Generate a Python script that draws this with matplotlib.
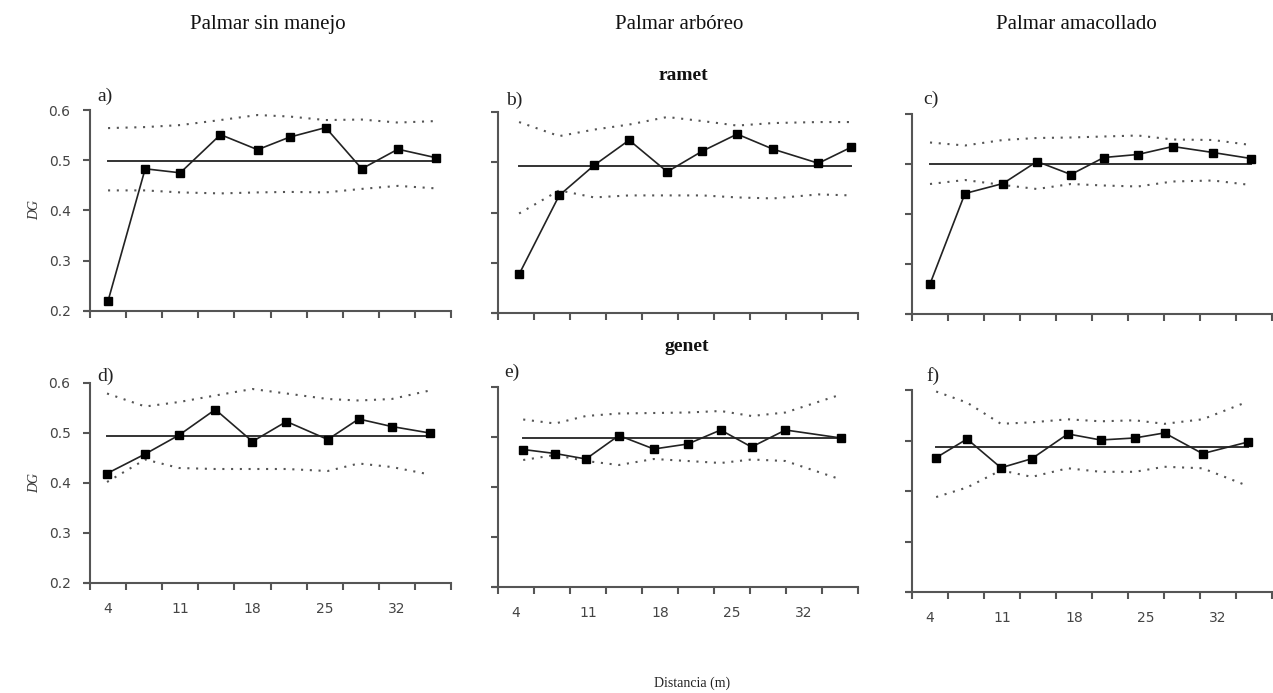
import matplotlib
matplotlib.use("Agg")
import matplotlib.pyplot as plt

# ---------------- data ----------------
columns = ["Palmar sin manejo", "Palmar arbóreo", "Palmar amacollado"]
rows = ["ramet", "genet"]
panel_labels = ["a)", "b)", "c)", "d)", "e)", "f)"]
xtick_labels = [4, 11, 18, 25, 32]
class_step = 3.5
n_classes = 10

# distances (m) of the plotted points
dist_a = [4.0, 7.6, 11.0, 14.9, 18.5, 21.6, 25.1, 28.6, 32.1, 35.8]
dist_b = [4.3, 8.2, 11.6, 15.0, 18.7, 22.1, 25.5, 29.0, 33.4, 36.6]
dist_c = [4.0, 7.4, 11.1, 14.4, 17.7, 20.9, 24.2, 27.6, 31.5, 35.2]
dist_d = [3.9, 7.6, 10.9, 14.4, 18.0, 21.3, 25.3, 28.3, 31.5, 35.2]
dist_e = [4.7, 7.8, 10.8, 14.0, 17.4, 20.7, 23.9, 26.9, 30.2, 35.6]
dist_f = [4.6, 7.6, 10.9, 13.9, 17.4, 20.6, 23.9, 26.8, 30.5, 34.9]

# observed Dg
dg_a = [0.220, 0.483, 0.475, 0.551, 0.521, 0.546, 0.565, 0.483, 0.522, 0.505]
dg_b = [0.277, 0.434, 0.494, 0.544, 0.481, 0.522, 0.556, 0.526, 0.498, 0.530]
dg_c = [0.260, 0.441, 0.461, 0.505, 0.479, 0.513, 0.519, 0.535, 0.523, 0.511]
dg_d = [0.419, 0.458, 0.496, 0.547, 0.483, 0.523, 0.487, 0.528, 0.513, 0.500]
dg_e = [0.475, 0.467, 0.456, 0.503, 0.476, 0.486, 0.514, 0.480, 0.514, 0.498]
dg_f = [0.466, 0.503, 0.446, 0.464, 0.513, 0.501, 0.505, 0.515, 0.474, 0.497]

# expected value (solid line)
expected = [0.498, 0.492, 0.500, 0.495, 0.498, 0.488]

# confidence envelopes (dotted)
upper_a = [0.564, 0.566, 0.570, 0.580, 0.590, 0.587, 0.580, 0.581, 0.575, 0.578]
lower_a = [0.440, 0.440, 0.436, 0.434, 0.436, 0.437, 0.436, 0.443, 0.449, 0.444]
upper_b = [0.580, 0.552, 0.565, 0.575, 0.590, 0.582, 0.573, 0.578, 0.580, 0.580]
lower_b = [0.398, 0.444, 0.430, 0.434, 0.434, 0.434, 0.430, 0.428, 0.436, 0.434]
upper_c = [0.543, 0.537, 0.548, 0.552, 0.553, 0.555, 0.557, 0.549, 0.548, 0.538]
lower_c = [0.460, 0.468, 0.458, 0.450, 0.460, 0.457, 0.455, 0.465, 0.467, 0.458]
upper_d = [0.579, 0.553, 0.562, 0.575, 0.588, 0.579, 0.568, 0.565, 0.568, 0.585]
lower_d = [0.402, 0.447, 0.430, 0.428, 0.428, 0.428, 0.424, 0.439, 0.432, 0.417]
upper_e = [0.535, 0.527, 0.542, 0.547, 0.548, 0.549, 0.552, 0.542, 0.549, 0.585]
lower_e = [0.454, 0.464, 0.452, 0.444, 0.456, 0.452, 0.448, 0.455, 0.452, 0.415]
upper_f = [0.597, 0.575, 0.533, 0.536, 0.542, 0.538, 0.540, 0.533, 0.542, 0.577]
lower_f = [0.388, 0.407, 0.441, 0.428, 0.445, 0.438, 0.438, 0.448, 0.445, 0.410]

yticks = [0.2, 0.3, 0.4, 0.5, 0.6]

dists = [dist_a, dist_b, dist_c, dist_d, dist_e, dist_f]
dgs = [dg_a, dg_b, dg_c, dg_d, dg_e, dg_f]
uppers = [upper_a, upper_b, upper_c, upper_d, upper_e, upper_f]
lowers = [lower_a, lower_b, lower_c, lower_d, lower_e, lower_f]

# ---------------- layout ----------------
W, H = 1273, 693
fig = plt.figure(figsize=(W / 100, H / 100), dpi=100)

# pixel boxes: left, right, top, bottom
boxes = [
    (90, 451, 110, 311),
    (498, 858, 112, 313),
    (912, 1272, 114, 314),
    (90, 451, 383, 583),
    (498, 858, 387, 587),
    (912, 1272, 390, 592),
]
label_pos = [(97, 101), (506, 105), (923, 104), (97, 381), (504, 377), (926, 381)]

axis_col = "#555555"
serif = ["Liberation Serif", "DejaVu Serif"]

x0 = xtick_labels[0] - class_step / 2
x1 = x0 + n_classes * class_step
bounds = [x0 + k * class_step for k in range(n_classes + 1)]

for i in range(6):
    l, r, t, b = boxes[i]
    ax = fig.add_axes([l / W, 1 - b / H, (r - l) / W, (b - t) / H])
    ax.set_xlim(x0, x1)
    ax.set_ylim(0.2, 0.6)
    for s in ["top", "right"]:
        ax.spines[s].set_visible(False)
    for s in ["left", "bottom"]:
        ax.spines[s].set_color(axis_col)
        ax.spines[s].set_linewidth(1.5)
    ax.spines["bottom"].set_bounds(x0 - 0.15 * class_step, x1)

    x = dists[i]
    dot = (0, (1, 3.2))
    ax.plot(x, uppers[i], ls=dot, color="#555555", lw=1.5, dash_capstyle="butt")
    ax.plot(x, lowers[i], ls=dot, color="#555555", lw=1.5, dash_capstyle="butt")
    ax.plot([x[0], x[-1]], [expected[i], expected[i]], color="#333333", lw=1.4)
    ax.plot(x, dgs[i], color="#222222", lw=1.2, marker="s", markersize=5.5,
            markerfacecolor="black", markeredgecolor="black")

    ax.set_yticks(yticks)
    ax.set_xticks(bounds)
    ax.set_xticklabels([])
    ax.tick_params(axis="both", which="major", color=axis_col, width=1.5, length=5, direction="out")
    if i in (0, 3):
        ax.set_yticklabels(["%.1f" % v for v in yticks])
        ax.tick_params(axis="y", labelsize=10, labelcolor="#444444", pad=9)
        ax.set_ylabel("DG", fontfamily=serif, fontstyle="italic", fontsize=10,
                      labelpad=5, color="#333333")
    else:
        ax.set_yticklabels([])
    if i >= 3:
        ax.set_xticks(xtick_labels, [str(v) for v in xtick_labels], minor=True)
        ax.tick_params(axis="x", which="minor", length=0, labelsize=10,
                       labelcolor="#444444", pad=14)

    lx, ly = label_pos[i]
    fig.text(lx / W, 1 - ly / H, panel_labels[i], fontfamily=serif, fontsize=14,
             ha="left", va="baseline", color="#222222")

# column titles
for cx, title in zip([268, 679, 1076], columns):
    fig.text(cx / W, 1 - 29 / H, title, fontfamily=serif, fontsize=15,
             ha="center", va="baseline", color="#111111")

# row titles
fig.text(683 / W, 1 - 80 / H, rows[0], fontfamily=serif, fontsize=14, fontweight="bold",
         ha="center", va="baseline", color="#111111")
fig.text(687 / W, 1 - 351 / H, rows[1], fontfamily=serif, fontsize=14, fontweight="bold",
         ha="center", va="baseline", color="#111111")

fig.text(692 / W, 1 - 687 / H, "Distancia (m)", fontfamily=serif, fontsize=10,
         ha="center", va="baseline", color="#222222")

fig.savefig("out.png", dpi=100)
